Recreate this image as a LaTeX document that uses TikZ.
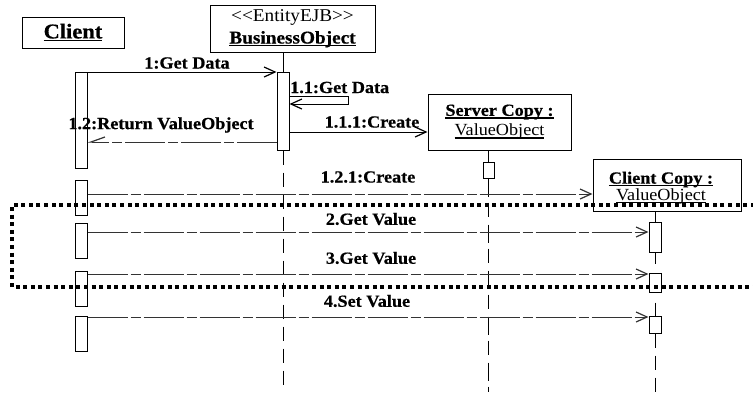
\documentclass[tikz,border=0pt]{standalone}
\usepackage{fontspec}
\setmainfont{Liberation Serif}[FakeStretch=1.07, BoldFeatures={FakeBold=0.6}]
\usetikzlibrary{arrows.meta}
\newcommand\myul[1]{\setbox0\hbox{#1}\leavevmode\rlap{\vrule height -1.6pt depth 2.8pt width\wd0}\box0}
\tikzset{
  objbox/.style={draw, line width=1pt, fill=white, inner sep=0pt, align=center},
  act/.style={draw, line width=1pt, fill=white, minimum width=12pt, inner sep=0pt},
  tipa/.style={-{Straight Barb[length=11pt,width=10pt,line width=1.2pt]}},
  call/.style={line width=1pt, tipa},
  async/.style={line width=0.7pt, draw=black!80, dash pattern=on 40pt off 3pt on 10pt off 3pt, tipa},
  ret/.style={line width=0.7pt, draw=black!80, dash pattern=on 40pt off 3pt on 10pt off 3pt,
    -{Straight Barb[right,length=14pt,width=10pt,line width=1.2pt]}},
  life/.style={line width=0.9pt, dash pattern=on 14pt off 8pt},
  lbl/.style={font=\fontsize{17}{19}\selectfont\bfseries, inner sep=0pt},
  dotbox/.style={line width=3.5pt, dash pattern=on 4pt off 3.6pt}
}
\begin{document}
\begin{tikzpicture}[x=1pt,y=-1pt]
\path[use as bounding box] (0,0) rectangle (753,392);
\clip (0,0) rectangle (753,392);
\coordinate (bot) at (0,392);

% objects
\node[objbox, minimum width=102pt, minimum height=31pt, font=\fontsize{21}{23}\selectfont\bfseries]
  (client) at (73,32.5) {\myul{Client}};
\node[objbox, minimum width=165pt, minimum height=47pt, font=\fontsize{18}{22}\selectfont]
  (bo) at (292.5,28.5) {\textless{}\kern0pt\textless{}EntityEJB\textgreater{}\kern0pt\textgreater{}\\ \textbf{\myul{BusinessObject}}};
\node[objbox, minimum width=143pt, minimum height=56pt, font=\fontsize{17}{20}\selectfont]
  (sc) at (499.5,122) {\textbf{\myul{Server Copy :}}\\ \myul{ValueObject}};
\node[objbox, minimum width=148pt, minimum height=52pt]
  (cc) at (667,185) {};
\node[font=\fontsize{17}{17}\selectfont, align=center, inner sep=0pt]
  (cctext) at (661,188) {\textbf{\myul{Client Copy :}}\\ \myul{ValueObject}};

% lifelines
\node[act, minimum height=78pt] (ba) at (283,111) {};
\draw[line width=0.9pt] (bo.south -| ba) -- (ba.north);
\draw[life] (ba.south) -- (ba.south |- bot);

\node[act, minimum width=11pt, minimum height=16pt] (sa) at (488.5,170) {};
\draw[line width=0.9pt] (sc.south -| sa) -- (sa.north);
\draw[life, dash pattern=on 18pt off 6pt on 14pt off 8pt] (sa.south) -- (sa.south |- bot);

\node[act, minimum height=30pt] (cc1) at (655,237) {};
\node[act, minimum height=19pt] (cc2) at (655,282.5) {};
\node[act, minimum height=17pt] (cc3) at (655,324.5) {};
\draw[line width=0.9pt] (cc.south -| cc1) -- (cc1.north);
\draw[line width=0.9pt] (cc1.south) -- ++(0,11);
\draw[line width=0.9pt] (cc2.south) ++(0,10) -- (cc3.north);
\draw[life] (cc3.south) -- (cc3.south |- bot);

% client activations
\node[act, minimum height=96pt] (ca1) at (81,120) {};
\node[act, minimum height=35pt] (ca2) at (81,197.5) {};
\node[act, minimum height=35pt] (ca3) at (81,240.5) {};
\node[act, minimum height=35pt] (ca4) at (81,288.5) {};
\node[act, minimum height=35pt] (ca5) at (81,333.5) {};

% messages
\draw[call] (ca1.east |- 0,72) -- (ba.west |- 0,72);
\node[lbl] (l1) at (187,63) {1:Get Data};

\coordinate (lp1) at (348,96);
\coordinate (lp2) at (348,104);
\draw[line width=1pt, tipa] (ba.east |- lp1) -- (lp1) -- (lp2) -- (ba.east |- lp2);
\node[lbl, anchor=base west] (l11) at (290,93) {1.1:Get Data};

\draw[call] (ba.east |- 0,132) -- (sc.west |- 0,132);
\node[lbl] (l111) at (372,122) {1.1.1:Create};

\draw[ret] (ba.west |- 0,142) -- (ca1.east |- 0,142);
\node[lbl] (l12) at (161,125) {1.2:Return ValueObject};

\draw[async] (ca2.east |- 0,194) -- (cc.west |- 0,194);
\node[lbl] (l121) at (368,177) {1.2.1:Create};

\draw[async] (ca3.east |- 0,232) -- (cc1.west |- 0,232);
\node[lbl] (l2) at (371,219) {2.Get Value};

\draw[async] (ca4.east |- 0,274) -- (cc2.west |- 0,274);
\node[lbl] (l3) at (371,258) {3.Get Value};

\draw[async] (ca5.east |- 0,317) -- (cc3.west |- 0,317);
\node[lbl] (l4) at (367,301) {4.Set Value};

% dotted frame
\draw[dotbox] (770,205) -- (12,205) -- (12,287) -- (770,287);
\end{tikzpicture}
\end{document}
